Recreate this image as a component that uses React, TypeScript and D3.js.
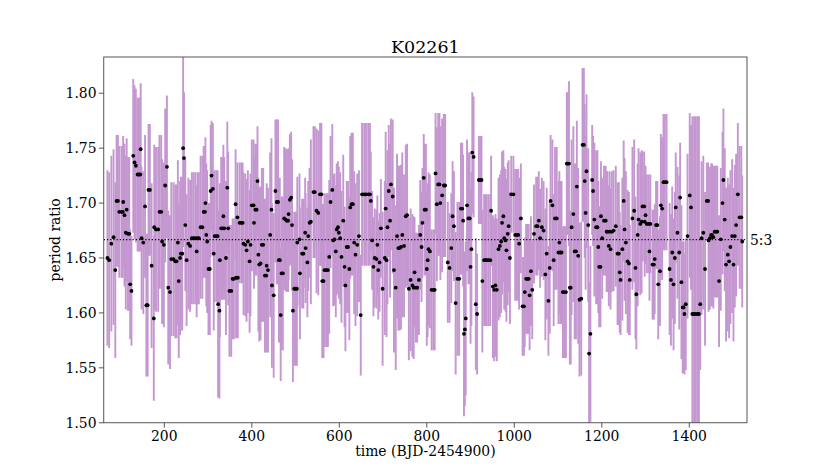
import React from "react";
import * as d3 from "d3";

const times: number[] = [
  70, 74, 79, 84, 88, 91, 94, 97, 102, 105, 106, 109, 112, 114, 117, 120, 122, 125, 129, 132, 135, 139, 142, 145, 146, 148, 152, 156, 159, 162, 164, 167, 171, 176, 177, 181, 186, 189, 193, 195, 199,
  202, 206, 209, 213, 216, 221, 225, 228, 231, 233, 236, 238, 241, 243, 245, 248, 251, 255, 259, 263, 267, 271, 274, 276, 279, 283, 287, 290, 293, 294, 296, 298,
  301, 304, 306, 308, 311, 313, 315, 319, 322, 323, 326, 327, 330, 334, 335, 337, 341, 344, 346, 349, 353, 356, 359, 363, 364, 367, 368, 372, 376, 379, 381, 385, 388, 391, 395, 397,
  400, 404, 405, 408, 411, 413, 415, 417, 420, 423, 426, 430, 433, 434, 437, 442, 445, 446, 450, 454, 457, 460, 462, 464, 466, 468, 471, 474, 477, 480, 483, 484, 487, 490, 492, 494, 497,
  500, 503, 504, 509, 510, 515, 518, 522, 523, 527, 529, 532, 535, 541, 544, 548, 552, 556, 559, 561, 564, 566, 570, 574, 577, 580, 584, 586, 589, 592, 594, 597, 599,
  602, 605, 609, 612, 614, 617, 620, 623, 625, 628, 631, 634, 637, 641, 645, 649, 652, 657, 661, 666, 670, 672, 675, 678, 681, 685, 687, 689, 692, 695, 699,
  704, 706, 708, 710, 713, 716, 718, 722, 725, 729, 732, 735, 738, 741, 744, 748, 752, 755, 759, 763, 767, 770, 772, 775, 778, 782, 785, 788, 790, 793, 795, 798,
  800, 802, 804, 807, 811, 815, 818, 820, 823, 826, 829, 831, 835, 839, 842, 848, 852, 856, 859, 862, 866, 870, 874, 878, 881, 883, 885, 887, 889, 892, 895, 898,
  900, 902, 904, 907, 912, 915, 919, 922, 925, 927, 931, 934, 937, 941, 945, 947, 951, 954, 957, 960, 964, 967, 970, 972, 975, 977, 980, 982, 985, 987, 990, 993, 998,
  1002, 1006, 1009, 1011, 1015, 1019, 1022, 1024, 1027, 1030, 1033, 1035, 1038, 1041, 1045, 1050, 1053, 1056, 1059, 1063, 1067, 1071, 1074, 1078, 1081, 1083, 1087, 1090, 1093, 1097,
  1101, 1103, 1105, 1108, 1111, 1114, 1118, 1120, 1122, 1125, 1127, 1129, 1131, 1135, 1138, 1141, 1143, 1146, 1149, 1153, 1156, 1159, 1161, 1163, 1165, 1169, 1171, 1174, 1178, 1180, 1183, 1187, 1190, 1192, 1194, 1197, 1198,
  1201, 1205, 1209, 1211, 1213, 1216, 1218, 1220, 1223, 1227, 1232, 1236, 1239, 1241, 1243, 1247, 1250, 1252, 1255, 1259, 1262, 1264, 1270, 1274, 1277, 1279, 1282, 1284, 1288, 1291, 1293, 1297, 1298,
  1300, 1303, 1307, 1309, 1311, 1316, 1319, 1321, 1324, 1327, 1329, 1333, 1335, 1338, 1341, 1344, 1348, 1355, 1358, 1361, 1364, 1367, 1369, 1373, 1377, 1379, 1382, 1385, 1387, 1389, 1392, 1396,
  1401, 1404, 1407, 1411, 1415, 1419, 1422, 1425, 1428, 1432, 1436, 1440, 1443, 1444, 1447, 1450, 1452, 1455, 1458, 1461, 1464, 1468, 1472, 1476, 1478, 1481, 1484, 1488, 1491, 1494, 1498,
  1501, 1504, 1507, 1511, 1515, 1519, 1521,
];

const ratios: number[] = [
  1.650, 1.648, 1.663, 1.669, 1.639, 1.702, 1.702, 1.692, 1.692, 1.692, 1.701, 1.689, 1.673, 1.694, 1.672, 1.672, 1.626, 1.620, 1.743, 1.737, 1.734, 1.726, 1.726, 1.726, 1.749, 1.668, 1.664, 1.697, 1.607, 1.607, 1.712, 1.712, 1.643, 1.595, 1.678, 1.676, 1.676, 1.692, 1.692, 1.665, 1.662,
  1.716, 1.733, 1.623, 1.619, 1.649, 1.649, 1.647, 1.647, 1.664, 1.629, 1.650, 1.654, 1.654, 1.750, 1.741, 1.680, 1.648, 1.663, 1.661, 1.668, 1.668, 1.668, 1.656, 1.668, 1.668, 1.678, 1.678, 1.692, 1.692, 1.700, 1.671, 1.665,
  1.640, 1.640, 1.711, 1.725, 1.713, 1.654, 1.670, 1.670, 1.670, 1.608, 1.602, 1.648, 1.677, 1.677, 1.688, 1.677, 1.650, 1.714, 1.677, 1.620, 1.620, 1.631, 1.631, 1.699, 1.632, 1.687, 1.632, 1.682, 1.682, 1.682, 1.663, 1.662, 1.657, 1.665, 1.647, 1.662,
  1.698, 1.698, 1.682, 1.694, 1.694, 1.720, 1.653, 1.644, 1.645, 1.662, 1.662, 1.634, 1.634, 1.643, 1.639, 1.671, 1.694, 1.625, 1.616, 1.711, 1.701, 1.701, 1.648, 1.648, 1.598, 1.636, 1.636, 1.686, 1.685, 1.684, 1.684, 1.690, 1.703, 1.705, 1.680, 1.602, 1.622,
  1.622, 1.622, 1.664, 1.667, 1.636, 1.654, 1.654, 1.673, 1.659, 1.646, 1.670, 1.682, 1.683, 1.710, 1.710, 1.693, 1.691, 1.708, 1.708, 1.629, 1.629, 1.639, 1.639, 1.639, 1.651, 1.701, 1.712, 1.666, 1.667, 1.656, 1.676, 1.678, 1.673,
  1.668, 1.651, 1.684, 1.642, 1.625, 1.660, 1.660, 1.640, 1.696, 1.699, 1.699, 1.664, 1.653, 1.662, 1.670, 1.598, 1.708, 1.708, 1.708, 1.708, 1.708, 1.702, 1.666, 1.642, 1.650, 1.649, 1.662, 1.639, 1.646, 1.677, 1.622,
  1.650, 1.695, 1.648, 1.678, 1.711, 1.684, 1.717, 1.706, 1.639, 1.623, 1.670, 1.659, 1.659, 1.660, 1.671, 1.661, 1.688, 1.689, 1.622, 1.630, 1.625, 1.623, 1.637, 1.623, 1.623, 1.630, 1.671, 1.660, 1.682, 1.723, 1.694, 1.694,
  1.640, 1.648, 1.658, 1.656, 1.621, 1.621, 1.621, 1.727, 1.699, 1.717, 1.717, 1.700, 1.707, 1.716, 1.716, 1.646, 1.641, 1.659, 1.688, 1.679, 1.609, 1.631, 1.631, 1.695, 1.695, 1.684, 1.581, 1.585, 1.595, 1.698, 1.686, 1.686,
  1.642, 1.658, 1.746, 1.742, 1.608, 1.599, 1.721, 1.721, 1.721, 1.629, 1.648, 1.648, 1.648, 1.648, 1.648, 1.693, 1.624, 1.621, 1.625, 1.621, 1.658, 1.661, 1.665, 1.682, 1.688, 1.668, 1.666, 1.657, 1.672, 1.679, 1.650, 1.708, 1.708,
  1.671, 1.671, 1.671, 1.663, 1.686, 1.606, 1.606, 1.619, 1.631, 1.631, 1.631, 1.616, 1.638, 1.621, 1.672, 1.679, 1.679, 1.684, 1.668, 1.678, 1.675, 1.635, 1.654, 1.611, 1.641, 1.702, 1.698, 1.648, 1.686, 1.686,
  1.655, 1.664, 1.655, 1.655, 1.619, 1.619, 1.619, 1.736, 1.736, 1.736, 1.623, 1.623, 1.678, 1.690, 1.656, 1.656, 1.715, 1.652, 1.612, 1.613, 1.753, 1.753, 1.720, 1.691, 1.729, 1.680, 1.563, 1.581, 1.721, 1.711, 1.685, 1.678, 1.678, 1.660, 1.642, 1.642, 1.688,
  1.668, 1.684, 1.684, 1.674, 1.674, 1.661, 1.674, 1.658, 1.674, 1.675, 1.679, 1.654, 1.654, 1.637, 1.630, 1.658, 1.702, 1.676, 1.664, 1.647, 1.645, 1.630, 1.686, 1.693, 1.641, 1.617, 1.671, 1.685, 1.681, 1.683, 1.697, 1.697, 1.683,
  1.689, 1.681, 1.681, 1.656, 1.681, 1.644, 1.644, 1.649, 1.680, 1.680, 1.626, 1.638, 1.698, 1.695, 1.719, 1.719, 1.719, 1.640, 1.630, 1.655, 1.626, 1.650, 1.696, 1.673, 1.655, 1.705, 1.628, 1.605, 1.605, 1.599, 1.608, 1.670,
  1.707, 1.696, 1.599, 1.599, 1.599, 1.599, 1.599, 1.608, 1.668, 1.673, 1.640, 1.702, 1.702, 1.666, 1.668, 1.671, 1.671, 1.669, 1.674, 1.674, 1.674, 1.629, 1.667, 1.700, 1.721, 1.685, 1.644, 1.653, 1.647, 1.660, 1.670,
  1.644, 1.670, 1.680, 1.708, 1.687, 1.687, 1.665,
];

const errors: number[] = [
  0.08, 0.08, 0.08, 0.08, 0.08, 0.06, 0.06, 0.06, 0.06, 0.06, 0.06, 0.065, 0.07, 0.065, 0.07, 0.07, 0.05, 0.05, 0.07, 0.07, 0.07, 0.07, 0.07, 0.07, 0.06, 0.065, 0.065, 0.065, 0.065, 0.065, 0.06, 0.06, 0.075, 0.075, 0.075, 0.075, 0.075, 0.07, 0.07, 0.075, 0.075,
  0.07, 0.065, 0.07, 0.07, 0.07, 0.07, 0.07, 0.07, 0.075, 0.07, 0.07, 0.07, 0.07, 0.09, 0.06, 0.06, 0.06, 0.06, 0.06, 0.06, 0.06, 0.06, 0.06, 0.06, 0.06, 0.065, 0.065, 0.06, 0.06, 0.06, 0.065, 0.065,
  0.06, 0.06, 0.06, 0.05, 0.06, 0.07, 0.06, 0.06, 0.06, 0.085, 0.08, 0.07, 0.065, 0.065, 0.065, 0.065, 0.07, 0.06, 0.07, 0.06, 0.06, 0.055, 0.055, 0.05, 0.055, 0.05, 0.055, 0.055, 0.055, 0.055, 0.065, 0.065, 0.065, 0.065, 0.065, 0.065,
  0.06, 0.06, 0.06, 0.06, 0.06, 0.05, 0.07, 0.07, 0.07, 0.07, 0.07, 0.07, 0.07, 0.075, 0.075, 0.075, 0.065, 0.075, 0.075, 0.065, 0.075, 0.075, 0.075, 0.075, 0.06, 0.07, 0.07, 0.065, 0.065, 0.065, 0.065, 0.06, 0.06, 0.06, 0.06, 0.065, 0.07,
  0.07, 0.07, 0.06, 0.06, 0.06, 0.05, 0.05, 0.05, 0.05, 0.05, 0.05, 0.05, 0.075, 0.06, 0.06, 0.075, 0.075, 0.065, 0.065, 0.07, 0.07, 0.07, 0.07, 0.07, 0.07, 0.06, 0.06, 0.06, 0.06, 0.06, 0.06, 0.06, 0.06,
  0.06, 0.06, 0.06, 0.055, 0.06, 0.06, 0.06, 0.065, 0.065, 0.065, 0.065, 0.065, 0.065, 0.065, 0.06, 0.055, 0.065, 0.065, 0.065, 0.065, 0.065, 0.045, 0.045, 0.045, 0.045, 0.045, 0.045, 0.045, 0.045, 0.045, 0.07,
  0.07, 0.07, 0.07, 0.07, 0.06, 0.07, 0.06, 0.07, 0.075, 0.075, 0.075, 0.075, 0.075, 0.075, 0.075, 0.065, 0.065, 0.065, 0.065, 0.065, 0.065, 0.065, 0.05, 0.05, 0.05, 0.05, 0.05, 0.05, 0.05, 0.04, 0.06, 0.06,
  0.07, 0.07, 0.07, 0.07, 0.055, 0.055, 0.055, 0.055, 0.07, 0.065, 0.065, 0.07, 0.07, 0.065, 0.065, 0.055, 0.05, 0.05, 0.05, 0.05, 0.065, 0.07, 0.07, 0.06, 0.06, 0.06, 0.075, 0.07, 0.07, 0.06, 0.06, 0.06,
  0.07, 0.07, 0.055, 0.055, 0.06, 0.055, 0.04, 0.04, 0.04, 0.065, 0.06, 0.06, 0.06, 0.06, 0.06, 0.05, 0.065, 0.065, 0.065, 0.065, 0.065, 0.065, 0.065, 0.065, 0.06, 0.065, 0.065, 0.065, 0.065, 0.06, 0.06, 0.035, 0.035,
  0.06, 0.06, 0.06, 0.06, 0.05, 0.045, 0.045, 0.05, 0.05, 0.05, 0.05, 0.05, 0.05, 0.045, 0.045, 0.045, 0.045, 0.045, 0.045, 0.045, 0.045, 0.06, 0.06, 0.05, 0.06, 0.06, 0.06, 0.06, 0.065, 0.065,
  0.065, 0.065, 0.065, 0.065, 0.06, 0.06, 0.06, 0.065, 0.065, 0.075, 0.07, 0.07, 0.08, 0.08, 0.08, 0.08, 0.06, 0.08, 0.07, 0.07, 0.07, 0.07, 0.07, 0.07, 0.07, 0.07, 0.065, 0.08, 0.05, 0.05, 0.07, 0.07, 0.07, 0.06, 0.055, 0.055, 0.05,
  0.055, 0.05, 0.05, 0.055, 0.055, 0.055, 0.055, 0.055, 0.055, 0.055, 0.055, 0.065, 0.065, 0.055, 0.05, 0.065, 0.055, 0.065, 0.065, 0.065, 0.065, 0.05, 0.065, 0.065, 0.065, 0.05, 0.065, 0.065, 0.065, 0.065, 0.05, 0.05, 0.05,
  0.045, 0.045, 0.045, 0.045, 0.045, 0.05, 0.05, 0.05, 0.04, 0.04, 0.05, 0.05, 0.065, 0.065, 0.062, 0.062, 0.062, 0.06, 0.06, 0.06, 0.06, 0.06, 0.05, 0.06, 0.07, 0.05, 0.07, 0.06, 0.06, 0.055, 0.06, 0.075,
  0.075, 0.075, 0.18, 0.18, 0.18, 0.18, 0.18, 0.06, 0.07, 0.07, 0.07, 0.035, 0.035, 0.065, 0.065, 0.065, 0.065, 0.065, 0.06, 0.06, 0.06, 0.06, 0.065, 0.065, 0.065, 0.065, 0.07, 0.07, 0.07, 0.07, 0.07,
  0.07, 0.065, 0.065, 0.065, 0.065, 0.065, 0.06,
];

const xTicks: number[] = [200, 400, 600, 800, 1000, 1200, 1400];
const yTicks: number[] = [1.5, 1.55, 1.6, 1.65, 1.7, 1.75, 1.8];
const resonance = 5 / 3;
const resonanceLabel = "5:3";
const title = "K02261";
const xLabel = "time (BJD-2454900)";
const yLabel = "period ratio";

const W = 830;
const H = 475;
const M = { left: 103.75, right: 747, top: 57, bottom: 422.75 };
const FONT = "'DejaVu Serif', serif";
const BAR = "rgb(196,151,208)";

export default function App() {
  const x = d3.scaleLinear().domain([61.6, 1531.9]).range([M.left, M.right]);
  const y = d3.scaleLinear().domain([1.5, 1.833]).range([M.bottom, M.top]);
  const n = Math.min(times.length, ratios.length, errors.length);
  const idx = d3.range(n);

  return (
    <svg
      width={W}
      height={H}
      style={{ position: "absolute", left: 0, top: 0, background: "#fff" }}
      fontFamily={FONT}
    >
      <defs>
        <clipPath id="plotclip">
          <rect x={M.left} y={M.top} width={M.right - M.left} height={M.bottom - M.top} />
        </clipPath>
      </defs>
      <rect x={0} y={0} width={W} height={H} fill="#fff" />
      <g clipPath="url(#plotclip)">
        {idx.map((i) => (
          <line
            key={"b" + i}
            x1={x(times[i])}
            x2={x(times[i])}
            y1={y(ratios[i] - errors[i])}
            y2={y(ratios[i] + errors[i])}
            stroke={BAR}
            strokeWidth={1.9}
          />
        ))}
        <line
          x1={M.left}
          x2={M.right}
          y1={y(resonance)}
          y2={y(resonance)}
          stroke="#000"
          strokeWidth={1.2}
          strokeDasharray="1.2,2"
        />
        {idx.map((i) => (
          <circle key={"p" + i} cx={x(times[i])} cy={y(ratios[i])} r={1.9} fill="#000" />
        ))}
      </g>
      <rect
        x={M.left}
        y={M.top}
        width={M.right - M.left}
        height={M.bottom - M.top}
        fill="none"
        stroke="#444"
        strokeWidth={0.9}
      />
      {xTicks.map((t) => (
        <g key={"xt" + t}>
          <line x1={x(t)} x2={x(t)} y1={M.bottom} y2={M.bottom + 4.9} stroke="#444" strokeWidth={0.9} />
          <text x={x(t)} y={440.5} fontSize={13.9} textAnchor="middle" fill="#000">
            {d3.format("d")(t)}
          </text>
        </g>
      ))}
      {yTicks.map((t) => (
        <g key={"yt" + t}>
          <line x1={M.left - 4.9} x2={M.left} y1={y(t)} y2={y(t)} stroke="#444" strokeWidth={0.9} />
          <text x={96.5} y={y(t) + 5} fontSize={13.9} textAnchor="end" fill="#000">
            {d3.format(".2f")(t)}
          </text>
        </g>
      ))}
      <text x={750} y={y(resonance) + 5} fontSize={13.9} fill="#000">
        {resonanceLabel}
      </text>
      <text x={(M.left + M.right) / 2} y={52.5} fontSize={17.5} textAnchor="middle" fill="#000">
        {title}
      </text>
      <text x={(M.left + M.right) / 2} y={456} fontSize={13.9} textAnchor="middle" fill="#000">
        {xLabel}
      </text>
      <text
        transform={`translate(60,${(M.top + M.bottom) / 2}) rotate(-90)`}
        fontSize={13.9}
        textAnchor="middle"
        fill="#000"
      >
        {yLabel}
      </text>
    </svg>
  );
}
